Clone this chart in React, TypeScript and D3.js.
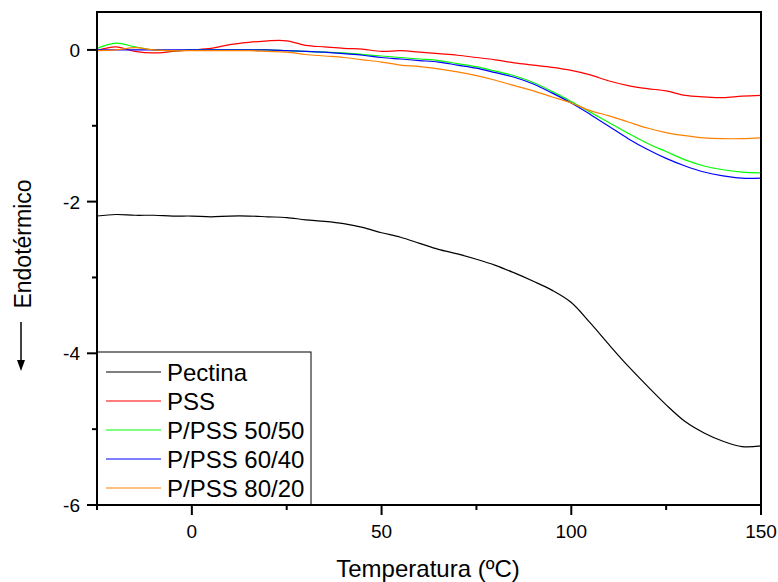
import React from "react";
import * as d3 from "d3";

const temps = [-25,-20,-15,-10,-5,0,5,10,15,20,25,30,35,40,45,50,55,60,65,70,75,80,85,90,95,100,105,110,115,120,125,130,135,140,145,150];

const pectina = [-2.19,-2.17,-2.18,-2.18,-2.19,-2.19,-2.2,-2.19,-2.19,-2.2,-2.21,-2.24,-2.26,-2.29,-2.34,-2.41,-2.47,-2.55,-2.63,-2.69,-2.76,-2.84,-2.94,-3.05,-3.17,-3.33,-3.6,-3.89,-4.17,-4.43,-4.68,-4.9,-5.05,-5.16,-5.23,-5.22];
const pss = [-0.01,0.04,-0.02,-0.04,-0.02,0,0.02,0.07,0.1,0.12,0.12,0.06,0.04,0.02,0.01,-0.02,-0.01,-0.03,-0.05,-0.07,-0.1,-0.13,-0.17,-0.2,-0.23,-0.27,-0.33,-0.41,-0.47,-0.51,-0.54,-0.6,-0.62,-0.63,-0.61,-0.6];
const p5050 = [0.02,0.09,0.04,0.0,-0.01,0,0,0,0,0,-0.01,-0.02,-0.03,-0.04,-0.06,-0.08,-0.1,-0.12,-0.14,-0.18,-0.22,-0.28,-0.34,-0.43,-0.55,-0.68,-0.82,-0.96,-1.1,-1.23,-1.34,-1.45,-1.53,-1.58,-1.61,-1.62];
const p6040 = [0,0,0,0,0,0,0,0,0,0,-0.01,-0.02,-0.03,-0.05,-0.07,-0.1,-0.12,-0.14,-0.16,-0.2,-0.24,-0.3,-0.36,-0.45,-0.57,-0.7,-0.85,-1.01,-1.17,-1.31,-1.43,-1.53,-1.61,-1.66,-1.69,-1.69];
const p8020 = [-0.01,0.0,0.03,0.0,-0.01,-0.01,-0.01,-0.01,-0.01,-0.02,-0.03,-0.06,-0.08,-0.1,-0.13,-0.16,-0.2,-0.22,-0.25,-0.29,-0.34,-0.4,-0.47,-0.54,-0.62,-0.7,-0.8,-0.87,-0.95,-1.03,-1.09,-1.13,-1.16,-1.17,-1.17,-1.16];

const seriesNames = ["Pectina", "PSS", "P/PSS 50/50", "P/PSS 60/40", "P/PSS 80/20"];
const seriesValues = [pectina, pss, p5050, p6040, p8020];
const seriesColors = ["#000000", "#ff0000", "#00ff00", "#0000ff", "#ff8000"];

const xMajor = [0, 50, 100, 150];
const xMinor = [-25, 25, 75, 125];
const yMajor = [0, -2, -4, -6];
const yMinor = [-1, -3, -5];

const W = 778, H = 582;
const L = 97, R = 761, T = 12, B = 505;
const FONT = "Arial, 'Liberation Sans', sans-serif";

export default function App() {
  const x = d3.scaleLinear().domain([-25, 150]).range([L, R]);
  const y = d3.scaleLinear().domain([-6, 0.5]).range([B, T]);
  const line = d3.line<[number, number]>()
    .x(d => x(d[0]))
    .y(d => y(d[1]))
    .curve(d3.curveCatmullRom.alpha(0.5));

  const legendRows = [381, 410, 439, 468, 497];

  return (
    <svg width={W} height={H} style={{ position: "absolute", left: 0, top: 0, background: "#fff" }}>
      <rect x={0} y={0} width={W} height={H} fill="#fff" />
      <defs>
        <clipPath id="plot">
          <rect x={L} y={T} width={R - L} height={B - T} />
        </clipPath>
      </defs>
      <g clipPath="url(#plot)">
        {seriesValues.map((vals, i) => (
          <path
            key={i}
            d={line(temps.map((t, j) => [t, vals[j]] as [number, number])) || ""}
            fill="none"
            stroke={seriesColors[i]}
            strokeWidth={1.2}
          />
        ))}
      </g>
      {/* frame */}
      <rect x={L} y={T} width={R - L} height={B - T} fill="none" stroke="#000" strokeWidth={2} />
      {/* x ticks */}
      {xMajor.map(v => (
        <g key={"xm" + v}>
          <line x1={x(v)} x2={x(v)} y1={B} y2={B + 10} stroke="#000" strokeWidth={2} />
          <text x={x(v)} y={538} textAnchor="middle" fontFamily={FONT} fontSize={19}>{v}</text>
        </g>
      ))}
      {xMinor.map(v => (
        <line key={"xn" + v} x1={x(v)} x2={x(v)} y1={B} y2={B + 5} stroke="#000" strokeWidth={2} />
      ))}
      {/* y ticks */}
      {yMajor.map(v => (
        <g key={"ym" + v}>
          <line x1={L - 10} x2={L} y1={y(v)} y2={y(v)} stroke="#000" strokeWidth={2} />
          <text x={80} y={y(v) + 7} textAnchor="end" fontFamily={FONT} fontSize={19}>{v}</text>
        </g>
      ))}
      {yMinor.map(v => (
        <line key={"yn" + v} x1={L - 5} x2={L} y1={y(v)} y2={y(v)} stroke="#000" strokeWidth={2} />
      ))}
      {/* axis titles */}
      <text x={428} y={577} textAnchor="middle" fontFamily={FONT} fontSize={24}>Temperatura (ºC)</text>
      <text transform="translate(31,244) rotate(-90)" textAnchor="middle" fontFamily={FONT} fontSize={23}>Endotérmico</text>
      <line x1={21} x2={21} y1={322} y2={362} stroke="#000" strokeWidth={1.5} />
      <path d="M17,360 L25,360 L21,371 Z" fill="#000" />
      {/* legend */}
      <rect x={L} y={352} width={311 - L} height={B - 352} fill="#fff" stroke="#000" strokeWidth={1} />
      {seriesNames.map((n, i) => (
        <g key={n}>
          <line x1={106} x2={161} y1={legendRows[i] - 9} y2={legendRows[i] - 9} stroke={seriesColors[i]} strokeWidth={1.2} />
          <text x={167} y={legendRows[i]} fontFamily={FONT} fontSize={24}>{n}</text>
        </g>
      ))}
      <line x1={L} x2={L} y1={352} y2={B} stroke="#000" strokeWidth={2} />
      <line x1={L} x2={311} y1={B} y2={B} stroke="#000" strokeWidth={2} />
    </svg>
  );
}
